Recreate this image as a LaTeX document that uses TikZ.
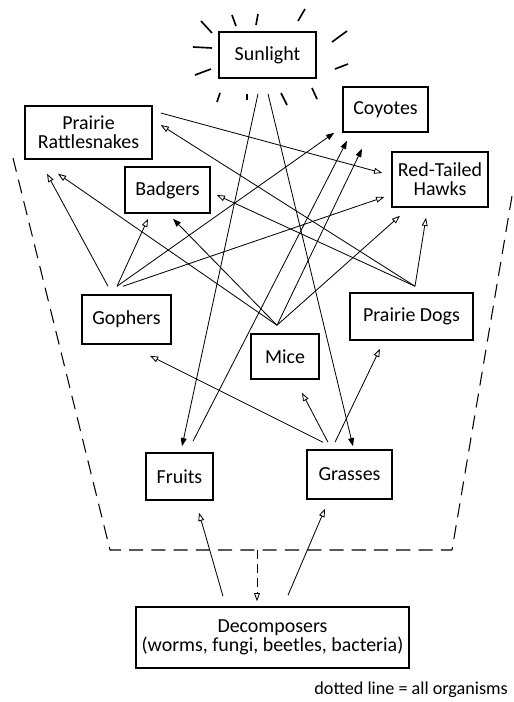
\documentclass[tikz,border=0pt]{standalone}
\usepackage{fontspec}
\setmainfont{Carlito}
\usetikzlibrary{arrows.meta,calc}

\begin{document}
\begin{tikzpicture}[x=0.03cm,y=-0.03cm,
  every node/.style={font=\fontsize{17}{16}\selectfont},
  box/.style={draw,line width=1.3pt,align=center,inner sep=0pt},
  eats/.style={line width=0.7pt,-{Triangle[open,length=7pt,width=5pt]}},
  eatsf/.style={line width=0.7pt,-{Triangle[length=7pt,width=5pt]}}]
\useasboundingbox (0,0) rectangle (514,702);
% the organisms
\node[box,minimum width=2.91cm,minimum height=1.38cm] (sun) at (267.5,55) {Sunlight};
\node[box,minimum width=3.81cm,minimum height=1.59cm] (rattle) at (88.5,132.5) {Prairie\\Rattlesnakes};
\node[box,minimum width=2.55cm,minimum height=1.35cm] (coyote) at (385.5,109.5) {Coyotes};
\node[box,minimum width=2.88cm,minimum height=1.65cm] (hawk) at (440,179.5) {Red-Tailed\\Hawks};
\node[box,minimum width=2.55cm,minimum height=1.38cm] (badger) at (167.5,190) {Badgers};
\node[box,minimum width=2.67cm,minimum height=1.47cm] (gopher) at (126.5,319.5) {Gophers};
\node[box,minimum width=2.04cm,minimum height=1.35cm] (mice) at (285,356.5) {Mice};
\node[box,minimum width=3.69cm,minimum height=1.41cm] (dogs) at (411.5,316.5) {Prairie Dogs};
\node[box,minimum width=2.01cm,minimum height=1.41cm] (fruit) at (179.5,476.5) {Fruits};
\node[box,minimum width=2.55cm,minimum height=1.47cm] (grass) at (349.5,474.5) {Grasses};
\node[box,minimum width=8.19cm,minimum height=1.83cm] (decomp) at (272.5,637.5) {Decomposers\\(worms, fungi, beetles, bacteria)};
\node[font=\fontsize{15.5}{16}\selectfont,anchor=east] (key) at (512,690) {dotted line = all organisms};

% rays round the sun
\foreach \xa/\ya/\xb/\yb in {201/21/212/33, 232/15/236/26, 258/14/256/25, 305/9/298/21,
    347/31/332/42, 348/64/335/69, 193/47/212/48, 195/75/211/69,
    220/93/217/102, 247/94/247/100, 281/93/287/105, 312/88/317/99}
  \draw[line width=1.4pt] (\xa,\ya) -- (\xb,\yb);

% dashed line round all organisms
\draw[line width=0.9pt,dash pattern=on 12pt off 7pt] (13,158) -- (110,550) -- (452,550) -- (513,190);
\coordinate (all) at (257,550);
\draw[eats,dash pattern=on 8pt off 4pt] (all) -- ($(decomp.north)+(-15.5,-5)$);

% energy from the sun
\draw[eatsf] ($(sun.south)+(-9.5,15)$) -- ($(fruit.north)+(2.5,-6)$);
\draw[eatsf] ($(sun.south)+(0.5,15)$) -- ($(grass.north)+(3.5,-3)$);

% gophers
\draw[eats] ($(gopher.north)+(-18.5,-8)$) -- ($(rattle.south)+(-41.5,14)$);
\draw[eats] ($(gopher.north)+(-9.5,-8)$) -- ($(badger.south)+(-19.5,5)$);
\draw[eatsf] ($(gopher.north)+(-9.5,-8)$) -- ($(coyote.south west)+(-8,0)$);
\draw[eats] ($(gopher.north)+(-3.5,-8)$) -- ($(hawk.west)+(-7,17.5)$);

% mice
\draw[eats] ($(mice.north)+(-8,-8)$) -- ($(rattle.south)+(-30.5,14)$);
\draw[eatsf] ($(mice.north)+(-8,-8)$) -- ($(badger.south)+(5.5,5)$);
\draw[eatsf] ($(mice.north)+(-8,-8)$) -- ($(coyote.south)+(-23.5,16)$);
\draw[eats] ($(mice.north)+(-8,-8)$) -- ($(hawk.south)+(-40,8)$);

% prairie dogs
\draw[eats] ($(dogs.north)+(3.5,-6)$) -- ($(rattle.east)+(8,-7.5)$);
\draw[eats] ($(dogs.north)+(3.5,-6)$) -- ($(badger.east)+(6,5)$);
\draw[eats] ($(dogs.north)+(3.5,-6)$) -- ($(hawk.south)+(-14,10)$);

% snakes and fruits
\draw[eats] ($(rattle.east)+(8,-19.5)$) -- ($(hawk.west)+(-9,-6.5)$);
\draw[eatsf] ($(fruit.north)+(13.5,-11)$) -- ($(coyote.south)+(-38.5,8)$);

% grasses
\draw[eats] ($(grass.north)+(-26.5,-7)$) -- ($(gopher.south)+(23.5,11)$);
\draw[eats] ($(grass.north)+(-21.5,-7)$) -- ($(mice.south)+(17,13)$);
\draw[eats] ($(grass.north)+(-14.5,-7)$) -- ($(dogs.south)+(-31.5,8)$);

% back from the decomposers
\draw[eats] ($(decomp.north)+(-49.5,-10)$) -- ($(fruit.south)+(19.5,12)$);
\draw[eats] ($(decomp.north)+(15.5,-11)$) -- ($(grass.south)+(-24.5,9)$);
\end{tikzpicture}
\end{document}
